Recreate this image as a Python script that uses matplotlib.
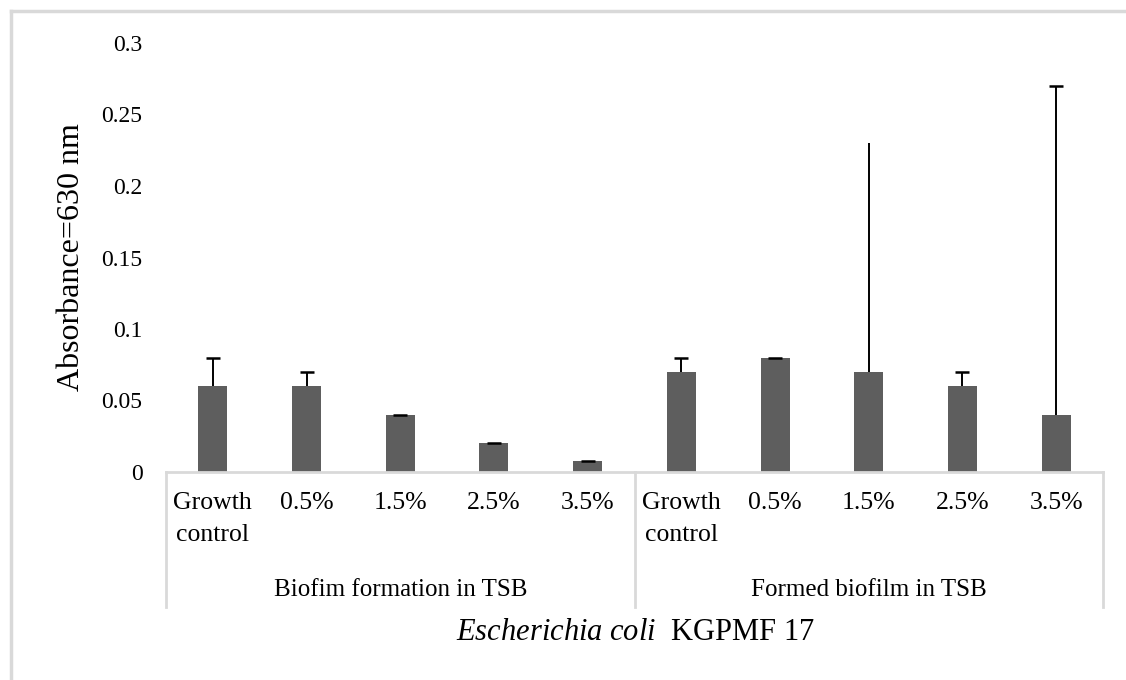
import numpy as np
import matplotlib
matplotlib.use("Agg")
import matplotlib.pyplot as plt
from matplotlib.lines import Line2D

plt.rcParams["font.family"] = ["Liberation Serif", "DejaVu Serif"]
plt.rcParams["mathtext.fontset"] = "custom"
plt.rcParams["mathtext.rm"] = "Liberation Serif"
plt.rcParams["mathtext.it"] = "Liberation Serif:italic"

# Absorbance at 630 nm for each treatment
categories = ["Growth\ncontrol", "0.5%", "1.5%", "2.5%", "3.5%",
              "Growth\ncontrol", "0.5%", "1.5%", "2.5%", "3.5%"]
groups = ["Biofim formation in TSB", "Formed biofilm in TSB"]
means = [0.06, 0.06, 0.04, 0.02, 0.008,
         0.07, 0.08, 0.07, 0.06, 0.04]
errors = [0.02, 0.01, 0.0, 0.0, 0.0,
          0.01, 0.0, 0.16, 0.01, 0.23]
capped = [True, True, True, True, True,
          True, True, False, True, True]
yticks = [0, 0.05, 0.1, 0.15, 0.2, 0.25, 0.3]
ytick_labels = ["0", "0.05", "0.1", "0.15", "0.2", "0.25", "0.3"]

W, H = 1126, 680
fig = plt.figure(figsize=(W / 100, H / 100), dpi=100)

# axes box in pixel terms
x0, x1 = 166, 1103
y_top, y_bot = 43, 472
ax = fig.add_axes([x0 / W, (H - y_bot) / H, (x1 - x0) / W, (y_bot - y_top) / H])

x = np.arange(len(categories))
bar_color = "#5e5e5e"
ax.bar(x, means, width=0.31, color=bar_color, zorder=2)

# upper-only error bars
for xi, m, e, c in zip(x, means, errors, capped):
    _, caps, _ = ax.errorbar(xi, m, yerr=[[0], [e]], fmt="none", ecolor="black",
                             elinewidth=1.4, capsize=5 if c else 0,
                             capthick=1.8, zorder=3)
    if caps:
        caps[0].set_visible(False)

ax.set_xlim(-0.5, len(categories) - 0.5)
ax.set_ylim(0, 0.3)
ax.set_yticks(yticks)
ax.set_yticklabels(ytick_labels, fontsize=17)
ax.tick_params(axis="y", length=0, pad=17)
ax.set_xticks([])

for s in ["top", "right", "left"]:
    ax.spines[s].set_visible(False)
ax.spines["bottom"].set_color("#d9d9d9")
ax.spines["bottom"].set_linewidth(2)

ax.set_ylabel("Absorbance=630 nm", fontsize=23, labelpad=11)

# axes-fraction helper for pixel rows below the plot
def yfrac(py):
    return (y_bot - py) / (y_bot - y_top)

trans = ax.get_xaxis_transform()
for xi, lab in zip(x, categories):
    ax.text(xi, yfrac(492), lab, transform=trans, ha="center", va="top",
            fontsize=18.5, linespacing=1.6, multialignment="center")

n_per = len(categories) // len(groups)
for gi, g in enumerate(groups):
    center = gi * n_per + (n_per - 1) / 2
    ax.text(center, yfrac(590), g, transform=trans, ha="center", va="center",
            fontsize=18)

# group separators
for xs in [-0.5, n_per - 0.5, len(categories) - 0.5]:
    ax.add_line(Line2D([xs, xs], [0, yfrac(607)], transform=trans,
                       color="#d9d9d9", lw=2, clip_on=False))

fig.text(635 / W, (H - 632) / H, r"$\mathit{Escherichia\ coli}$  KGPMF 17",
         ha="center", va="center", fontsize=22)

# outer frame (top and left edges)
fig.add_artist(Line2D([11 / W, 1], [1 - 11 / H, 1 - 11 / H],
                      transform=fig.transFigure, color="#d9d9d9", lw=2.5))
fig.add_artist(Line2D([11 / W, 11 / W], [0, 1 - 11 / H],
                      transform=fig.transFigure, color="#d9d9d9", lw=2.5))

fig.savefig("out.png", dpi=100)
